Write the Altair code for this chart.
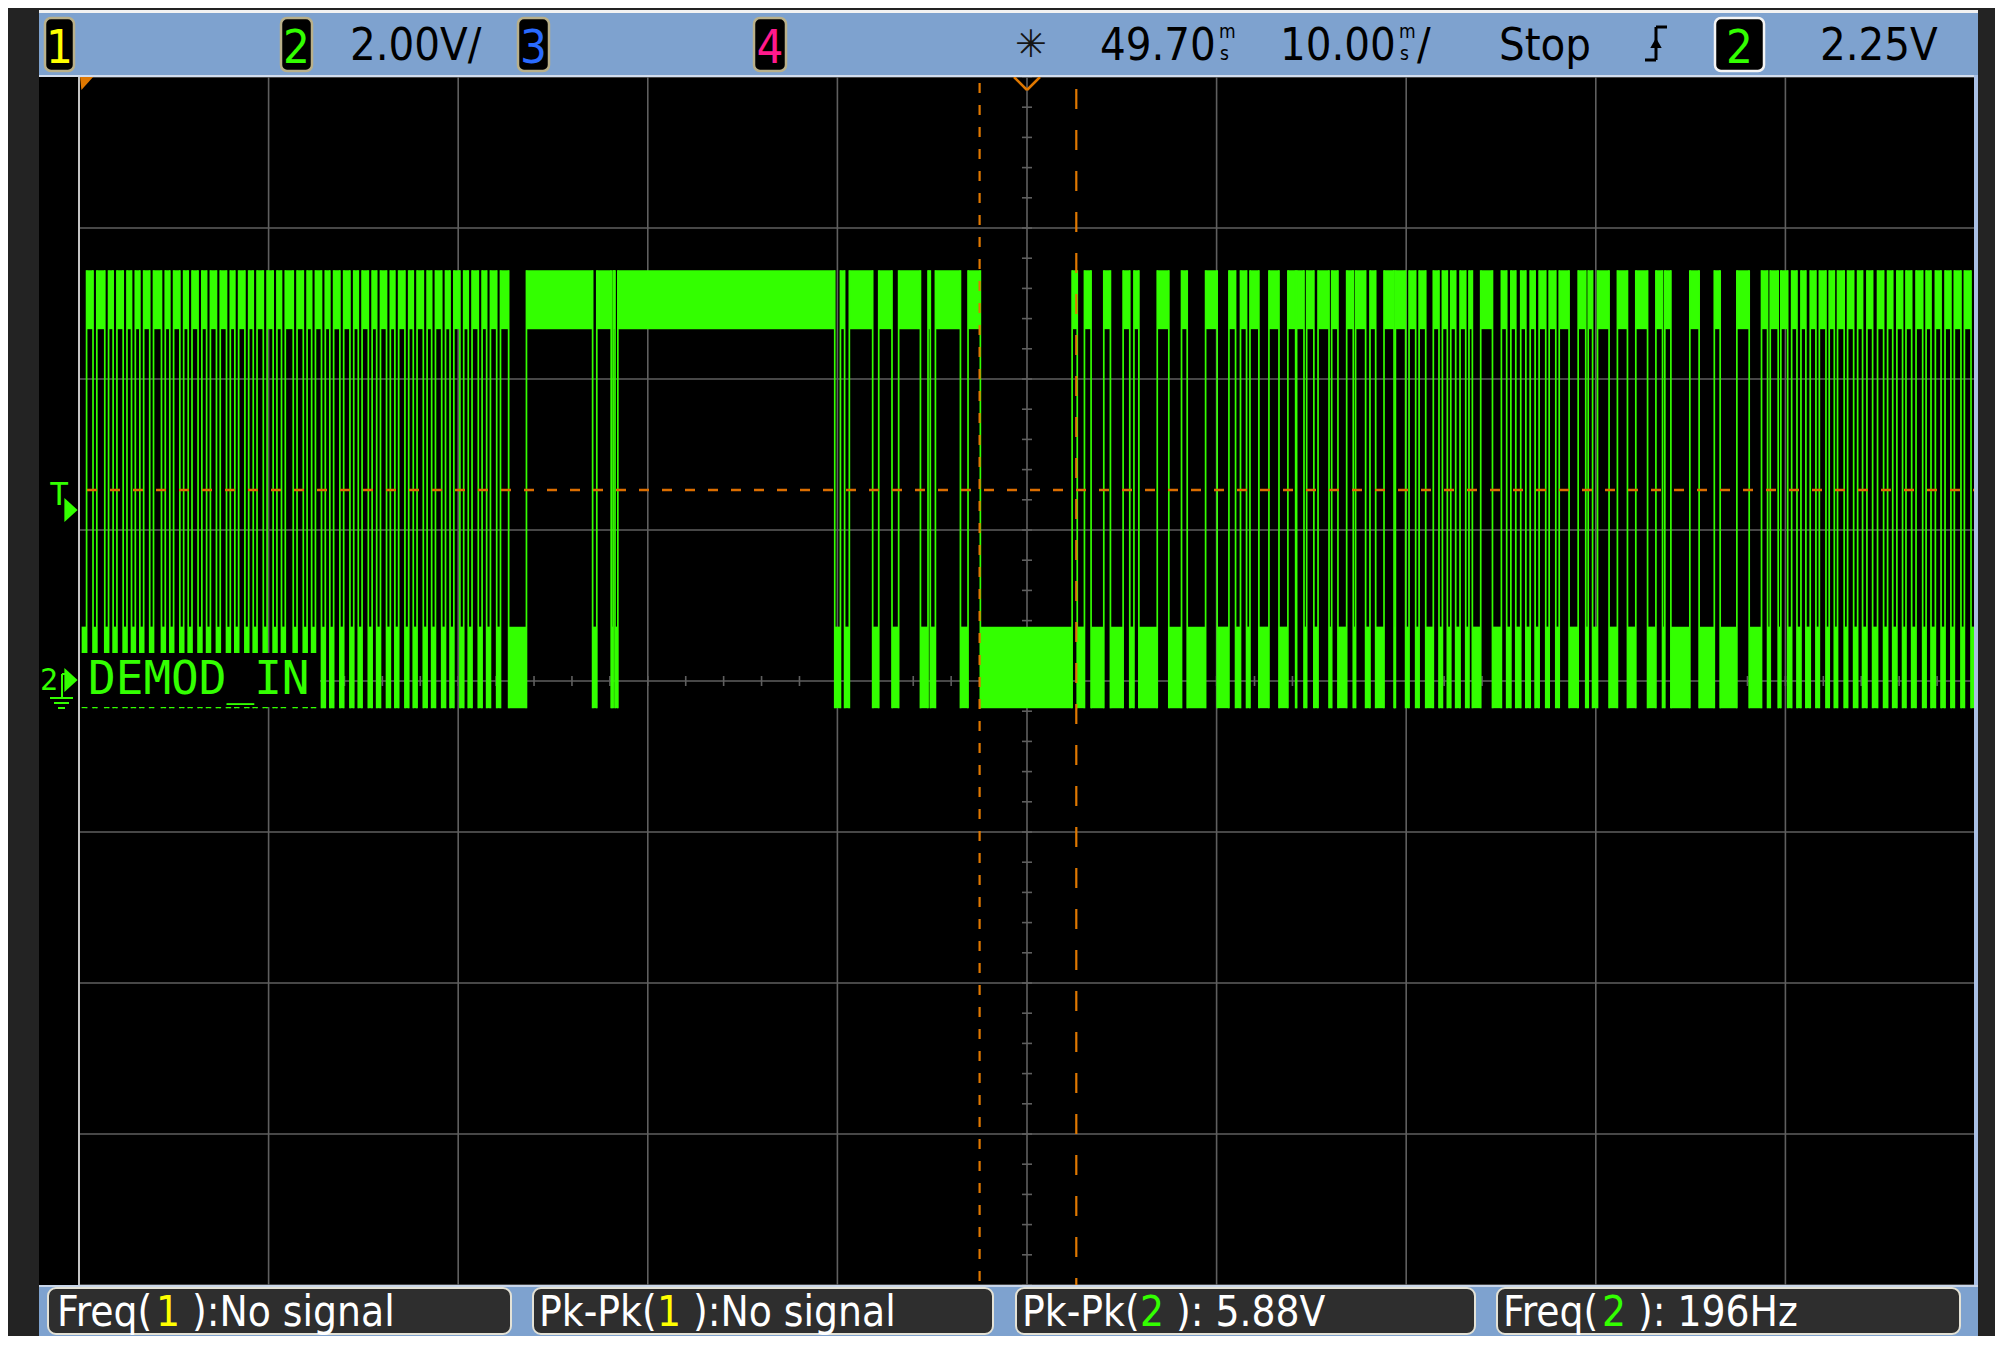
import altair as alt
import pandas as pd

time_domain_ms = [-0.3, 99.7]      # 49.70 ms delay at centre, 10.00 ms/div, 10 div
volt_domain = [-8.0, 8.0]          # 2.00 V/div, 8 div, channel-2 ground at centre
grid_x_ms = [-0.3, 9.7, 19.7, 29.7, 39.7, 49.7, 59.7, 69.7, 79.7, 89.7, 99.7]
grid_y_v = [-8, -6, -4, -2, 0, 2, 4, 6, 8]
# graticule minor ticks: 5 per division on the two centre lines
minor_x_ms = [round(-0.3 + 2.0 * i, 2) for i in range(51)]
minor_y_v = [round(-8.0 + 0.4 * i, 2) for i in range(41)]

high_band_v = [4.66, 5.44]         # ripple band of the trace when high
low_band_v = [-0.36, 0.72]         # ripple band of the trace when low
trigger_level_v = 2.53
cursor_a_ms = 47.20
cursor_b_ms = 52.30
trace_start_ms = -0.16
trace_end_ms = 99.70
trace_start_level = "low"

# transition times of DEMOD_IN (ms)
edges_ms = [
    0.10,
    0.44, 0.64, 1.06, 1.26, 1.50, 1.70, 2.03, 2.23, 2.47, 2.67, 2.91, 3.11,
    3.43, 3.63, 4.05, 4.25, 4.49, 4.69, 5.02, 5.22, 5.46, 5.66, 5.98, 6.18,
    6.43, 6.63, 6.95, 7.15, 7.48, 7.68, 7.92, 8.12, 8.45, 8.65, 8.89, 9.09,
    9.42, 9.62, 9.94, 10.14, 10.38, 10.58, 11.00, 11.20, 11.53, 11.73, 11.97,
    12.17, 12.49, 12.69, 12.93, 13.13, 13.46, 13.66, 13.99, 14.19, 14.43,
    14.63, 14.96, 15.16, 15.40, 15.60, 15.92, 16.12, 16.36, 16.56, 16.89,
    17.09, 17.33, 17.53, 17.86, 18.06, 18.30, 18.50, 18.83, 19.03, 19.27,
    19.47, 19.79, 19.99, 20.23, 20.43, 20.76, 20.96, 21.20, 21.40, 21.73, 21.93,
    22.36,
    23.30,
    26.79, 27.01, 27.77, 27.87, 27.97, 28.12,
    39.56, 39.86, 40.08, 40.33, 41.56, 41.88, 42.58, 42.93, 44.08, 44.48,
    44.60, 44.87, 46.19, 46.59,
    47.24,
    52.08, 52.35, 52.73, 53.08, 53.75, 54.10, 54.77, 55.12, 55.34, 55.60,
    56.57, 57.18, 57.85, 58.15, 59.12, 59.73, 60.35, 60.70, 60.96, 61.28,
    61.46, 61.93, 62.46, 62.99, 63.46, 63.87, 63.92, 64.31, 64.45, 64.83,
    65.05, 65.63, 65.77, 66.10, 66.56, 66.91, 67.03, 67.56, 67.79, 68.09,
    68.53, 69.06, 69.13, 69.67, 69.85, 70.20, 70.38, 70.73, 71.13, 71.43,
    71.61, 71.87, 72.05, 72.31, 72.54, 72.84, 73.01, 73.19, 73.63, 74.25,
    74.72, 75.00, 75.22, 75.48, 75.74, 76.01, 76.24, 76.50, 76.71, 77.06,
    77.24, 77.59, 77.77, 78.29, 78.77, 79.17, 79.30, 79.53, 79.79, 80.40,
    80.84, 81.37, 81.81, 82.43, 82.87, 83.22, 83.34, 83.66, 84.66, 85.15,
    85.95, 86.26, 87.14, 87.79, 88.44, 88.76, 88.90, 89.32, 89.46, 89.82,
    90.03, 90.31, 90.52, 90.78, 91.01, 91.31, 91.49, 91.84, 92.01, 92.28,
    92.45, 92.80, 92.98, 93.30, 93.51, 93.77, 94.00, 94.30, 94.56, 94.88,
    95.09, 95.36, 95.58, 95.88, 96.06, 96.36, 96.59, 96.94, 97.12, 97.38,
    97.61, 97.91, 98.12, 98.43, 98.61, 98.96, 99.14, 99.49,
]

# header texts
channel_numbers = ["1", "2", "3", "4"]
volts_per_div = "2.00V/"
delay_value = "49.70"
time_per_div = "10.00"
run_state = "Stop"
trigger_channel = "2"
trigger_level_text = "2.25V"
trace_label = "DEMOD_IN"
# measurement boxes: text before, channel number, text after the " "
meas_before = ["Freq(", "Pk-Pk(", "Pk-Pk(", "Freq("]
meas_channel = ["1", "1", "2", "2"]
meas_after = ["):No signal", "):No signal", "): 5.88V", "): 196Hz"]

# ---------------- tables built from the values ----------------
bounds = [trace_start_ms] + edges_ms + [trace_end_ms]
rows = []
lvl = trace_start_level
for a, b in zip(bounds[:-1], bounds[1:]):
    band = high_band_v if lvl == "high" else low_band_v
    rows.append({"start": a, "end": b, "v_lo": band[0], "v_hi": band[1]})
    lvl = "low" if lvl == "high" else "high"
runs = pd.DataFrame(rows)
edges_df = pd.DataFrame({"t": edges_ms, "lo": low_band_v[0], "hi": high_band_v[1]})

# ---------------- styling ----------------
W, H = 1896, 1208
XS = alt.Scale(domain=time_domain_ms, nice=False, zero=False)
YS = alt.Scale(domain=volt_domain, nice=False, zero=False)
GREEN = "#33ff00"
ORANGE = "#e07800"
TRIG = "#dc6e00"
GRID = "#5f5f5f"
BLUE = "#7ea2cf"
OUTER = "#232323"
SANS = "DejaVu Sans Condensed, Liberation Sans, sans-serif"
MONO = "DejaVu Sans Mono"
CH_COL = {"1": "#ffff00", "2": GREEN, "3": "#2a6bff", "4": "#ff1a8c"}
one = pd.DataFrame({"k": [0]})


def box(x1, x2, y1, y2, fill, stroke=None, sw=0, r=0):
    kw = dict(color=fill)
    if stroke:
        kw.update(stroke=stroke, strokeWidth=sw)
    if r:
        kw.update(cornerRadius=r)
    return alt.Chart(one).mark_rect(**kw).encode(
        x=alt.value(x1), x2=alt.value(x2), y=alt.value(y1), y2=alt.value(y2))


def seg(x1, y1, x2, y2, color, w=2.0):
    return alt.Chart(one).mark_rule(color=color, strokeWidth=w).encode(
        x=alt.value(x1), y=alt.value(y1), x2=alt.value(x2), y2=alt.value(y2))


def txt(x, y, s, size, color, font=SANS, align="left", baseline="alphabetic"):
    return alt.Chart(one).mark_text(
        text=s, fontSize=size, color=color, font=font, align=align, baseline=baseline
    ).encode(x=alt.value(x), y=alt.value(y))


def sym(x, y, shape, size, color):
    return alt.Chart(one).mark_point(
        shape=shape, size=size, filled=True, color=color, opacity=1, strokeWidth=0
    ).encode(x=alt.value(x), y=alt.value(y))


layers = []

# left black strip
layers.append(box(-40, 0, 0, H, "black"))

# graticule
layers.append(
    alt.Chart(pd.DataFrame({"t": grid_x_ms})).mark_rule(color=GRID, strokeWidth=1.6).encode(
        x=alt.X("t:Q", scale=XS, axis=None), y=alt.value(0), y2=alt.value(H))
)
layers.append(
    alt.Chart(pd.DataFrame({"v": grid_y_v})).mark_rule(color=GRID, strokeWidth=1.6).encode(
        y=alt.Y("v:Q", scale=YS, axis=None), x=alt.value(0), x2=alt.value(W))
)
layers.append(
    alt.Chart(pd.DataFrame({"t": minor_x_ms})).mark_rule(color=GRID, strokeWidth=1.6).encode(
        x=alt.X("t:Q", scale=XS, axis=None), y=alt.value(H / 2 - 5), y2=alt.value(H / 2 + 5))
)
layers.append(
    alt.Chart(pd.DataFrame({"v": minor_y_v})).mark_rule(color=GRID, strokeWidth=1.6).encode(
        y=alt.Y("v:Q", scale=YS, axis=None), x=alt.value(W / 2 - 5), x2=alt.value(W / 2 + 5))
)
layers.append(box(-1, 1, 0, H, "#c4c4c4"))

# trace
layers.append(
    alt.Chart(runs).mark_rect(color=GREEN).encode(
        x=alt.X("start:Q", scale=XS, axis=None), x2="end:Q",
        y=alt.Y("v_lo:Q", scale=YS, axis=None), y2="v_hi:Q")
)
layers.append(
    alt.Chart(edges_df).mark_rule(color=GREEN, strokeWidth=1.7).encode(
        x=alt.X("t:Q", scale=XS, axis=None),
        y=alt.Y("lo:Q", scale=YS, axis=None), y2="hi:Q")
)

# trigger level line
layers.append(
    alt.Chart(pd.DataFrame({"v": [trigger_level_v]})).mark_rule(
        color=TRIG, strokeWidth=2.4, strokeDash=[10, 13], strokeDashOffset=-8).encode(
        y=alt.Y("v:Q", scale=YS, axis=None), x=alt.value(0), x2=alt.value(W))
)
# cursors
layers.append(
    alt.Chart(pd.DataFrame({"t": [cursor_a_ms]})).mark_rule(
        color=ORANGE, strokeWidth=2.2, strokeDash=[10, 12]).encode(
        x=alt.X("t:Q", scale=XS, axis=None), y=alt.value(6), y2=alt.value(H))
)
layers.append(
    alt.Chart(pd.DataFrame({"t": [cursor_b_ms]})).mark_rule(
        color=ORANGE, strokeWidth=2.2, strokeDash=[20, 21]).encode(
        x=alt.X("t:Q", scale=XS, axis=None), y=alt.value(12), y2=alt.value(H))
)

# trace label with its black backing
layers.append(box(1, 241, 576, 630, "black"))
layers.append(txt(9, 617, trace_label, 46, GREEN, font=MONO))

# left markers: trigger "T" and channel-2 ground
layers.append(txt(-20, 428, "T", 32, GREEN, font=MONO, align="center"))
layers.append(sym(-8, 433, "M-0.55,-1L0.55,0L-0.55,1Z", 576, GREEN))
layers.append(txt(-39, 613, "2", 30, GREEN, font=MONO))
layers.append(sym(-8, 603, "M-0.55,-1L0.55,0L-0.55,1Z", 576, GREEN))
layers.append(seg(-17, 597, -17, 621, GREEN, 2))
layers.append(seg(-17, 597, -11, 597, GREEN, 2))
layers.append(seg(-29, 621, -6, 621, GREEN, 2))
layers.append(seg(-25, 626, -10, 626, GREEN, 2))
layers.append(seg(-21, 631, -14, 631, GREEN, 2))

# orange reference markers at the top of the graticule
layers.append(sym(8, 6, "M-1,-1L1,-1L-0.8,1Z", 196, ORANGE))
layers.append(seg(935, 0, 948, 13, ORANGE, 2.5))
layers.append(seg(948, 13, 961, 0, ORANGE, 2.5))

# ---------------- top status bar ----------------
layers.append(box(-40, W + 3, -67, -64, "#f2f2f2"))
layers.append(box(-40, W + 3, -64, -2, BLUE))
layers.append(box(-40, W + 3, -2, 0, "#d3deef"))
for num, (x1, x2) in zip(channel_numbers, [(-34, -5), (202, 233), (439, 470), (675, 707)]):
    layers.append(box(x1, x2, -59, -6, "black", "#b9b08a", 2.5, 6))
    layers.append(txt((x1 + x2) / 2, -14, num, 47, CH_COL[num], align="center"))
layers.append(txt(271, -17, volts_per_div, 45, "black"))
layers.append(txt(952, -31, "\u2733", 38, "#151515", font="DejaVu Sans", align="center",
                  baseline="middle"))
layers.append(txt(1021, -17, delay_value, 45, "black"))
layers.append(txt(1140, -39, "m", 19, "black"))
layers.append(txt(1141, -17, "s", 19, "black"))
layers.append(txt(1201, -17, time_per_div, 45, "black"))
layers.append(txt(1320, -39, "m", 19, "black"))
layers.append(txt(1321, -17, "s", 19, "black"))
layers.append(txt(1338, -17, "/", 45, "black"))
layers.append(txt(1420, -17, run_state, 45, "black"))
# rising-edge trigger glyph
layers.append(seg(1577, -50, 1577, -17, "black", 3))
layers.append(seg(1577, -50, 1588, -50, "black", 3))
layers.append(seg(1566, -17, 1577, -17, "black", 3))
layers.append(sym(1577, -34, "triangle-up", 130, "black"))
layers.append(box(1636, 1685, -59, -6, "black", "#f4f4f4", 2.5, 6))
layers.append(txt(1660.5, -14, trigger_channel, 47, GREEN, align="center"))
layers.append(txt(1741, -17, trigger_level_text, 45, "black"))

# right frame edge
layers.append(box(W - 1, W + 3, -2, H + 2, "#a9c0e6"))

# ---------------- bottom measurement bar ----------------
layers.append(box(-40, W + 3, H, 1259, BLUE))
layers.append(box(-40, W + 3, H, H + 2, "#c9d6ea"))
box_x = [(-31, 432), (454, 914), (937, 1396), (1418, 1881)]
seg_x = [(-22, 77, 113), (460, 578, 614), (943, 1061, 1097), (1424, 1523, 1559)]
for (x1, x2), (s1, s2, s3), a, c, b in zip(box_x, seg_x, meas_before, meas_channel, meas_after):
    layers.append(box(x1, x2, 1211, 1257, "#2e2e2e", "#e4e2d6", 2, 8))
    layers.append(txt(s1, 1249, a, 42, "white"))
    layers.append(txt(s2, 1249, c, 42, CH_COL[c]))
    layers.append(txt(s3, 1249, b, 42, "white"))

chart = (
    alt.layer(*layers)
    .properties(
        width=W,
        height=H,
        background=OUTER,
        padding={"left": 71, "top": 69, "right": 20, "bottom": 51},
        autosize=alt.AutoSizeParams(type="none"),
    )
    .configure_view(fill="black", stroke=None)
)

chart.save("out.html", embed_options={"renderer": "svg", "actions": False})
